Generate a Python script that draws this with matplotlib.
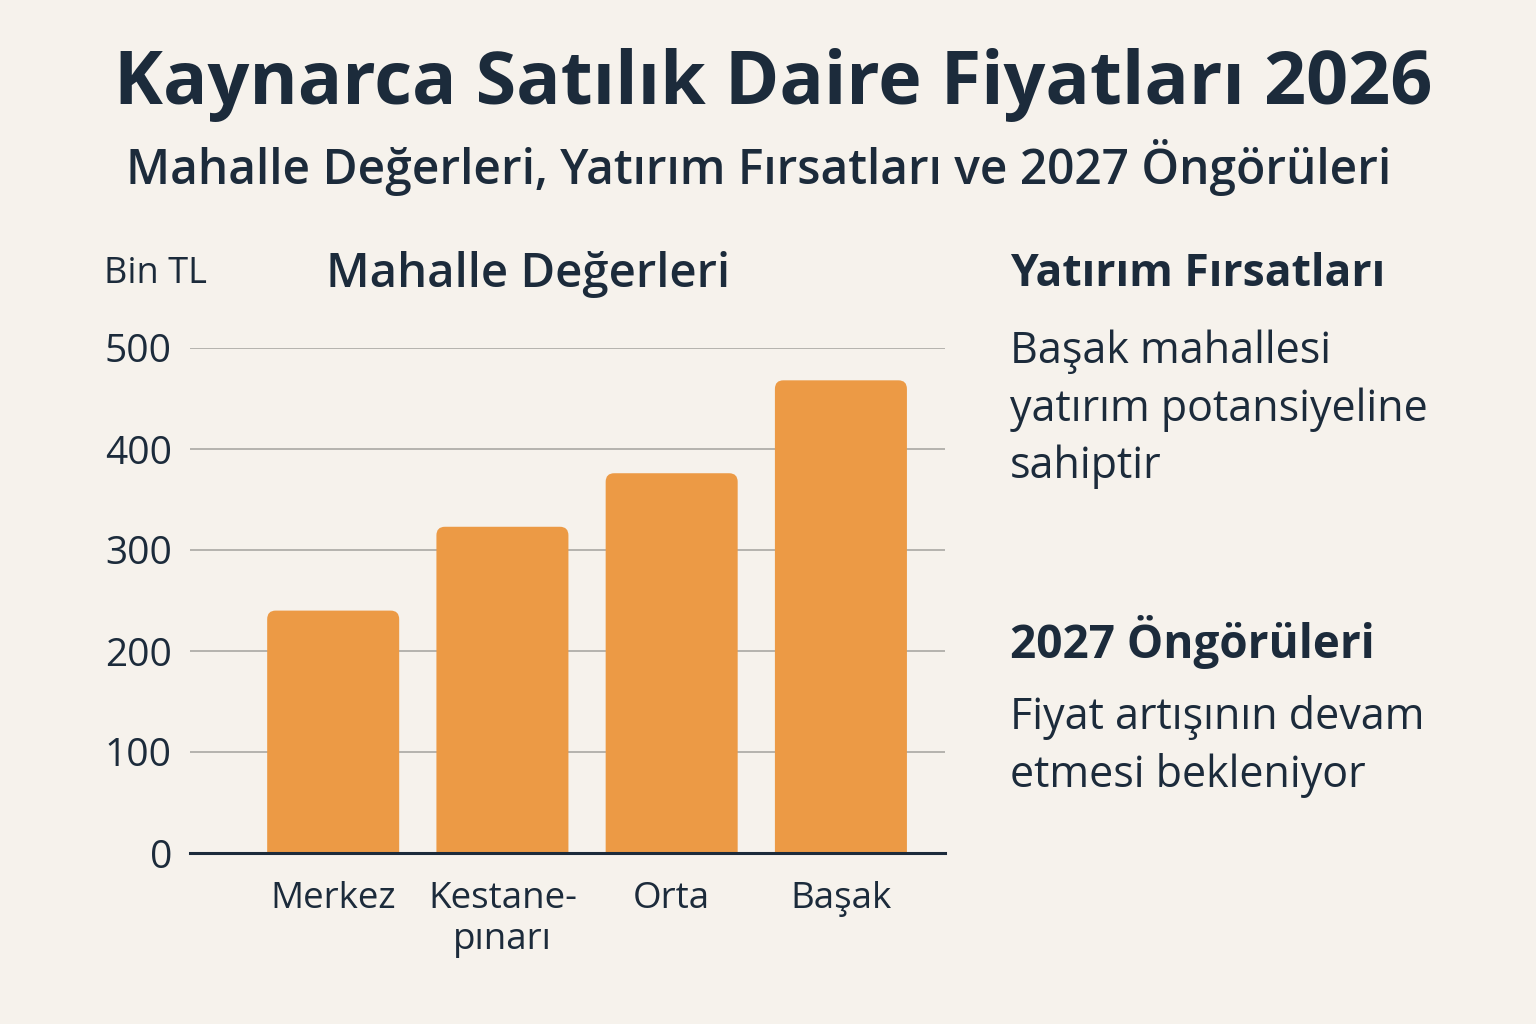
import numpy as np
import matplotlib
matplotlib.use("Agg")
import matplotlib.pyplot as plt
from matplotlib.patches import FancyBboxPatch

# data
mahalleler = ["Merkez", "Kestane-\npınarı", "Orta", "Başak"]
fiyatlar = [240, 323, 376, 468]  # Bin TL
y_ticks = [0, 100, 200, 300, 400, 500]

baslik = "Kaynarca Satılık Daire Fiyatları 2026"
alt_baslik = "Mahalle Değerleri, Yatırım Fırsatları ve 2027 Öngörüleri"
grafik_baslik = "Mahalle Değerleri"
birim = "Bin TL"
yatirim_baslik = "Yatırım Fırsatları"
yatirim_metin = ["Başak mahallesi", "yatırım potansiyeline", "sahiptir"]
ongoru_baslik = "2027 Öngörüleri"
ongoru_metin = ["Fiyat artışının devam", "etmesi bekleniyor"]

bg = "#f6f2ec"
navy = "#1c2b3b"
turuncu = "#ec9a45"
plt.rcParams['font.family'] = ['Open Sans', 'DejaVu Sans']

fig = plt.figure(figsize=(15.36, 10.24), dpi=100, facecolor=bg)
ax = fig.add_axes([190/1536, 1-853/1024, (945-190)/1536, (853-348)/1024])
ax.set_facecolor(bg)

x = np.arange(len(mahalleler))
w = 0.78
bars = ax.bar(x, fiyatlar, width=w, color="none")
for b in bars:
    # rounded top corners, bottom pushed below axis so it gets clipped
    p = FancyBboxPatch((b.get_x(), -20), b.get_width(), b.get_height() + 20,
                       boxstyle="round,pad=0,rounding_size=0.05",
                       mutation_aspect=170, fc=turuncu, ec="none", zorder=2)
    ax.add_patch(p)

ax.set_xlim(-0.846, 3.615)
ax.set_ylim(0, 500)
ax.set_yticks(y_ticks)
ax.set_yticklabels([str(t) for t in y_ticks], fontsize=28, color=navy)
ax.set_xticks(x)
ax.set_xticklabels(mahalleler, fontsize=26.5, color=navy, linespacing=1.2)
ax.tick_params(axis='both', length=0)
ax.tick_params(axis='y', pad=13)
ax.tick_params(axis='x', pad=20)
ax.grid(axis='y', color="#b5b3ae", linewidth=1.4, zorder=0)
ax.set_axisbelow(True)
for s in ["top", "right", "left"]:
    ax.spines[s].set_visible(False)
ax.spines["bottom"].set_color(navy)
ax.spines["bottom"].set_linewidth(2.2)
ax.spines["bottom"].set_zorder(3)

# titles
fig.text(773/1536, 1-85/1024, baslik, ha="center", va="center", fontsize=53,
         fontweight="bold", color=navy)
fig.text(759/1536, 1-168/1024, alt_baslik, ha="center", va="center", fontsize=34.5,
         fontweight="semibold", color=navy)
fig.text(104/1536, 1-274/1024, birim, ha="left", va="center", fontsize=26, color=navy)
fig.text(528/1536, 1-274/1024, grafik_baslik, ha="center", va="center", fontsize=34,
         fontweight="semibold", color=navy)

# right panel
fig.text(1010/1536, 1-274/1024, yatirim_baslik, ha="left", va="center", fontsize=32,
         fontweight="bold", color=navy)
for i, satir in enumerate(yatirim_metin):
    fig.text(1010/1536, 1-(352+57.5*i)/1024, satir, ha="left", va="center",
             fontsize=31, color=navy)
fig.text(1010/1536, 1-642/1024, ongoru_baslik, ha="left", va="center", fontsize=33,
         fontweight="bold", color=navy)
for i, satir in enumerate(ongoru_metin):
    fig.text(1010/1536, 1-(718+57*i)/1024, satir, ha="left", va="center",
             fontsize=31, color=navy)

fig.savefig("out.png", dpi=100, facecolor=bg)
